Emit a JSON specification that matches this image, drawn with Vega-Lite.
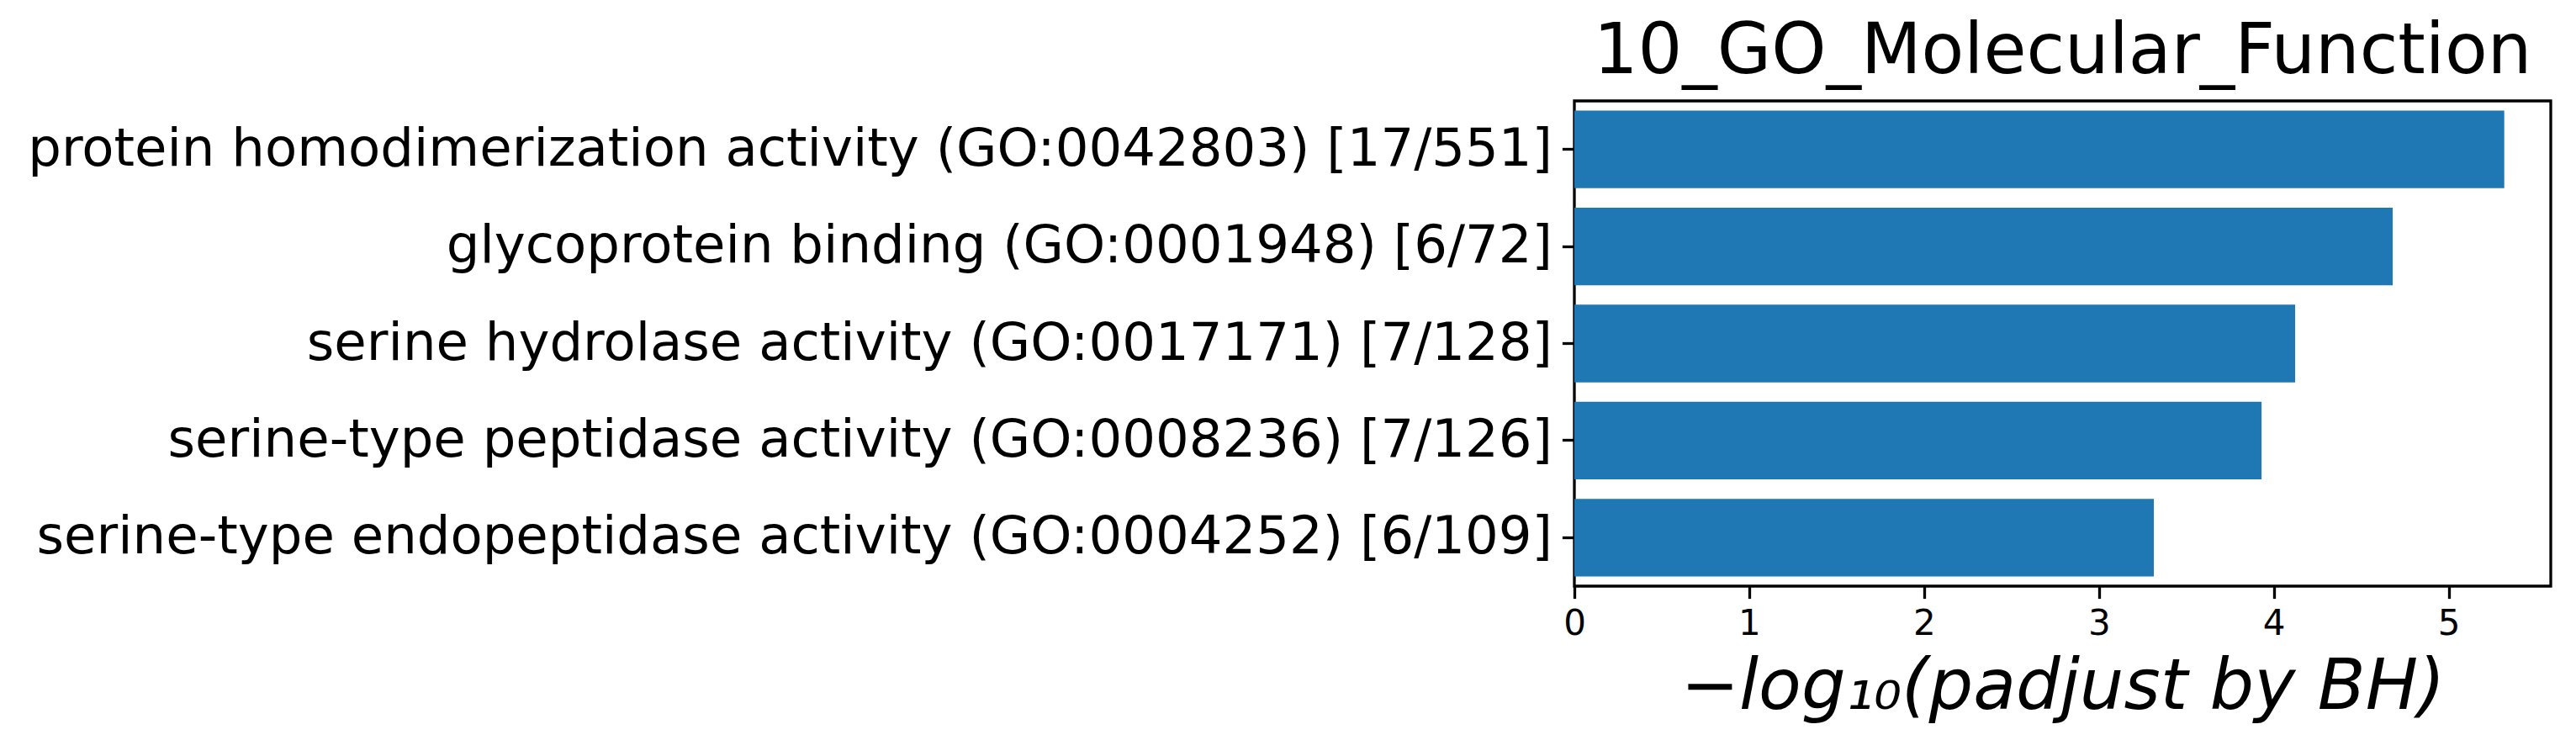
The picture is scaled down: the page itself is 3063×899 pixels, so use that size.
{
  "$schema": "https://vega.github.io/schema/vega-lite/v6.json",
  "width": 1161,
  "height": 577,
  "autosize": {"type": "none"},
  "padding": {"left": 1872, "top": 120, "right": 30, "bottom": 202},
  "background": "white",
  "title": {
    "text": "10_GO_Molecular_Function",
    "font": "DejaVu Sans",
    "fontSize": 83,
    "fontWeight": "normal",
    "color": "black",
    "anchor": "middle",
    "baseline": "alphabetic",
    "offset": -50
  },
  "data": {
    "values": [
      {"term": "protein homodimerization activity (GO:0042803) [17/551]", "value": 5.318},
      {"term": "glycoprotein binding (GO:0001948) [6/72]", "value": 4.680},
      {"term": "serine hydrolase activity (GO:0017171) [7/128]", "value": 4.122},
      {"term": "serine-type peptidase activity (GO:0008236) [7/126]", "value": 3.930},
      {"term": "serine-type endopeptidase activity (GO:0004252) [6/109]", "value": 3.314}
    ]
  },
  "mark": {"type": "bar", "color": "#1f77b4"},
  "encoding": {
    "y": {
      "field": "term",
      "type": "nominal",
      "sort": null,
      "scale": {"paddingInner": 0.2, "paddingOuter": 0.1},
      "axis": {
        "title": null,
        "domain": false,
        "labelFont": "DejaVu Sans",
        "labelFontSize": 62.5,
        "labelColor": "black",
        "labelLimit": 3000,
        "labelPadding": 12,
        "tickSize": 14.6,
        "tickWidth": 3.3,
        "tickColor": "black"
      }
    },
    "x": {
      "field": "value",
      "type": "quantitative",
      "scale": {"domain": [0, 5.584], "nice": false},
      "axis": {
        "values": [0, 1, 2, 3, 4, 5],
        "grid": false,
        "domain": false,
        "labelFont": "DejaVu Sans",
        "labelFontSize": 42,
        "labelColor": "black",
        "labelPadding": 10,
        "labelFlush": false,
        "tickSize": 14.6,
        "tickWidth": 3.3,
        "tickColor": "black",
        "title": "−log₁₀(padjust by BH)",
        "titleFont": "DejaVu Sans",
        "titleFontSize": 83,
        "titleFontStyle": "italic",
        "titleFontWeight": "normal",
        "titleColor": "black",
        "titleBaseline": "alphabetic",
        "titlePadding": 80
      }
    }
  },
  "config": {
    "view": {"stroke": "black", "strokeWidth": 3.3}
  }
}
